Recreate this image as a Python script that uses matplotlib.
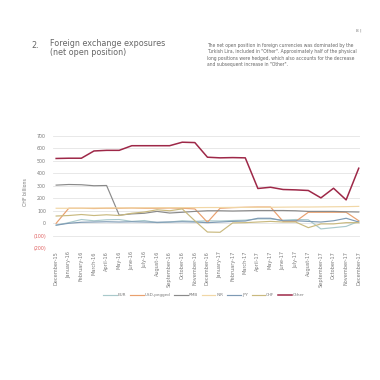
"""Foreign exchange exposures (net open position) - page recreation."""

import matplotlib
matplotlib.use('Agg')
import matplotlib.pyplot as plt

# ─── Data (CHF billions) ──────────────────────────────────────────────────────
months = ['December-15', 'January-16', 'February-16', 'March-16', 'April-16',
          'May-16', 'June-16', 'July-16', 'August-16', 'September-16',
          'October-16', 'November-16', 'December-16', 'January-17',
          'February-17', 'March-17', 'April-17', 'May-17', 'June-17',
          'July-17', 'August-17', 'September-17', 'October-17',
          'November-17', 'December-17']

eur = [-15, 5, 30, 20, 28, 30, 15, 22, 5, 10, 20, 15, 20, 18,
       22, 25, 35, 35, 25, 30, 28, -45, -35, -25, 16]
usd_pegged = [0, 120, 120, 118, 120, 120, 122, 120, 120, 122, 120, 115, 8, 120,
              125, 128, 130, 130, 15, 15, 88, 88, 88, 88, 20]
rmb = [305, 310, 308, 300, 302, 65, 75, 80, 95, 82, 88, 95, 100, 100,
       98, 100, 102, 102, 102, 100, 95, 95, 95, 92, 90]
inr = [120, 120, 120, 122, 122, 123, 123, 124, 124, 125, 125, 125, 126, 126,
       127, 127, 128, 128, 129, 130, 130, 131, 132, 133, 135]
jpy = [-15, 0, 8, 10, 12, 10, 12, 10, 8, 10, 12, 10, 5, 10,
       15, 18, 40, 40, 20, 20, 15, 10, 20, 40, 10]
chf = [58, 62, 70, 62, 68, 62, 80, 90, 108, 100, 115, 20, -70, -72,
       3, 5, 10, 15, 10, 10, -35, -5, -5, 5, 5]
other = [518, 520, 520, 578, 583, 583, 620, 620, 620, 620, 648, 645, 528, 523,
         525, 523, 278, 288, 270, 267, 262, 203, 280, 187, 440]

series = [('EUR', eur, '#A9C9CB'),
          ('USD-pegged', usd_pegged, '#E9A06E'),
          ('RMB', rmb, '#8A8A8A'),
          ('INR', inr, '#F1D7A6'),
          ('JPY', jpy, '#7E9AB4'),
          ('CHF', chf, '#C9B97E'),
          ('Other', other, '#9E2848')]

y_ticks = [-200, -100, 0, 100, 200, 300, 400, 500, 600, 700]
y_tick_labels = ['(200)', '(100)', '0', '100', '200', '300', '400', '500', '600', '700']

TEXT_GRAY = '#7A7A7A'
NEG_RED = '#E06060'


def create_page():
    fig = plt.figure(figsize=(3.8, 3.8), dpi=100)
    fig.patch.set_facecolor('white')

    # ─── Header text ──────────────────────────────────────────────────────
    fig.text(362 / 380, 1 - 30 / 380, '8 |', ha='right', va='center',
             fontsize=3.2, color=TEXT_GRAY)
    fig.text(31 / 380, 1 - 45 / 380, '2.', ha='left', va='center',
             fontsize=5.8, color='#666666')
    fig.text(50 / 380, 1 - 48 / 380, 'Foreign exchange exposures\n(net open position)',
             ha='left', va='center', fontsize=5.8, color='#666666', linespacing=1.05)
    para = ('The net open position in foreign currencies was dominated by the\n'
            'Turkish Lira, included in "Other". Approximately half of the physical\n'
            'long positions were hedged, which also accounts for the decrease\n'
            'and subsequent increase in "Other".')
    fig.text(207 / 380, 1 - 55 / 380, para, ha='left', va='center',
             fontsize=3.25, color='#666666', linespacing=1.4)

    # ─── Chart ────────────────────────────────────────────────────────────
    ax = fig.add_axes([53 / 380, 1 - 248.3 / 380, (360 - 53) / 380, (248.3 - 135.7) / 380])
    x = list(range(len(months)))
    for name, vals, color in series:
        lw = 1.1 if name == 'Other' else 0.85
        ax.plot(x, vals, color=color, lw=lw, label=name, solid_joinstyle='round')

    ax.set_xlim(-0.25, len(months) - 1 + 0.1)
    ax.set_ylim(-200, 700)
    ax.set_yticks(y_ticks)
    ax.set_yticklabels(y_tick_labels)
    for lbl, v in zip(ax.get_yticklabels(), y_ticks):
        lbl.set_color(NEG_RED if v < 0 else TEXT_GRAY)
    ax.set_xticks(x)
    ax.set_xticklabels(months, rotation=90, fontsize=3.6, color=TEXT_GRAY)
    ax.tick_params(axis='y', labelsize=3.4, length=0, pad=5)
    ax.tick_params(axis='x', length=0, pad=2)
    ax.grid(axis='y', color='#E4E4E4', lw=0.6)
    ax.set_axisbelow(True)
    for s in ax.spines.values():
        s.set_visible(False)
    ax.set_ylabel('CHF billions', fontsize=3.4, color=TEXT_GRAY, labelpad=4)

    fig.legend(loc='center', bbox_to_anchor=(204 / 380, 1 - 295 / 380), ncol=7,
               frameon=False, fontsize=3.0, handlelength=3.2, handletextpad=0.3,
               columnspacing=0.9, labelcolor=TEXT_GRAY)

    fig.savefig('out.png', dpi=100, facecolor='white')


if __name__ == '__main__':
    create_page()
